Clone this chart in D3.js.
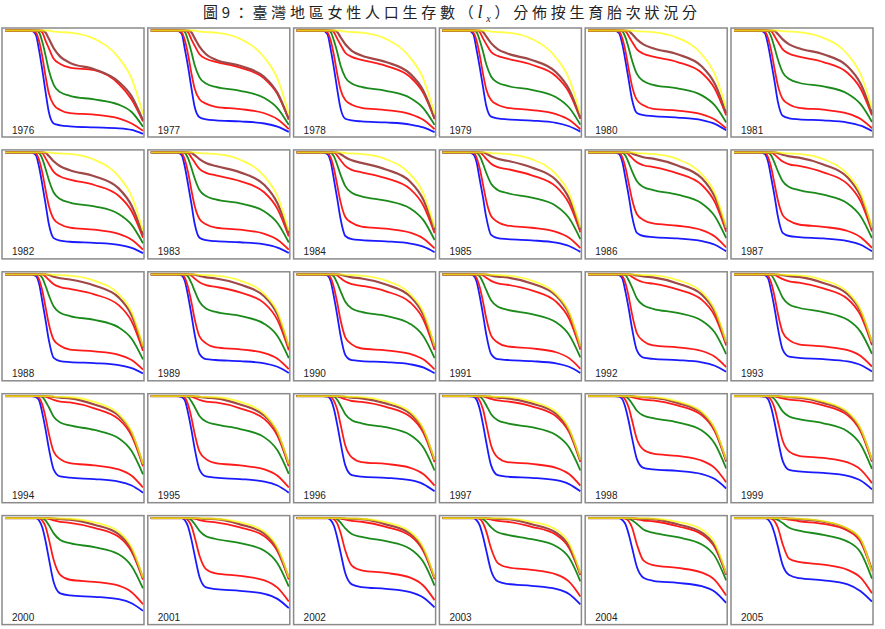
<!DOCTYPE html>
<html><head><meta charset="utf-8">
<script src="https://cdn.jsdelivr.net/npm/d3@7"></script>
<style>body{margin:0;background:#fff}svg{display:block}</style>
</head><body><svg id="c" width="885" height="629"></svg>
<script>
const years = [1976,1977,1978,1979,1980,1981,1982,1983,1984,1985,1986,1987,1988,1989,1990,1991,1992,1993,1994,1995,1996,1997,1998,1999,2000,2001,2002,2003,2004,2005];
const ages = [0,16,19,21,23,25,27,30,34,40,55,70,78,85];
const titleText = ["圖9：臺灣地區女性人口生存數（", "l", "x", "）分佈按生育胎次狀況分"];
// blue: parity 0
const parity0 = [
[100,100,96,81,62,41,22,11,9.3,8.3,7.3,6.4,4.8,1],
[100,100,97,82,65,45,27,17,15,14,13,11,8,3],
[100,100,96.5,82,64,44,26,15.6,14,13,12,10,7.3,2.7],
[100,100,96.6,82,65,46,28,17.6,16,15,13.8,11.6,8.4,3.2],
[100,100,97.5,87,70.5,52,34,21,19,18,16.7,14.2,10.6,4.5],
[100,100,97.5,86,69,51,32,18.4,16,15,14,11.9,8.9,3.8],
[100,100,97.5,86,69,50.5,31.5,18,15.5,14.5,13.5,11.5,8.6,3.6],
[100,100,97.5,86,69,51,32,18.4,16,15,14,11.9,8.9,3.8],
[100,100,98.3,91,74,56,37,20,17,16,14.9,12.8,9.8,4.5],
[100,100,98.3,91,74,57,38,21,18,17,15.8,13.6,10.4,4.8],
[100,100,98.4,91,75,58,39,23,20,19,17.7,15.2,11.6,5.3],
[100,100,98.4,91,75,58,39,23,20,19,17.7,15.2,11.6,5.3],
[100,100,98.3,91,74,56,37,20,17,16,15,13.1,10.2,5],
[100,100,98.8,93.4,79,61.5,42.6,23.7,18.8,18,16.9,14.8,11.5,5.6],
[100,100,98.8,93.4,78.4,61,42,22.8,17.8,17,16,13.9,10.9,5.3],
[100,100,98.8,93.4,79,61.5,42.6,23.7,18.8,18,16.9,14.8,11.5,5.6],
[100,100,99.2,96,83,66.8,48.2,27.1,20.2,19,17.9,15.8,12.5,6.7],
[100,100,99.2,96,83.2,67.2,48.8,28,21.2,20,18.8,16.6,13.2,7],
[100,100,99.2,96.1,83.6,68,50.1,29.8,23.2,22,20.7,18.3,14.5,7.7],
[100,100,99.2,96.1,83.6,68,50.1,29.8,23.2,22,20.7,18.3,14.5,7.7],
[100,100,99.6,96.9,87.7,73,56.1,33.8,24.5,23,21.9,19.6,15.9,9],
[100,100,99.6,96.9,87.7,73,56.1,33.8,24.5,23,21.9,19.6,15.9,9],
[100,100,99.7,97.2,88.8,75.5,60.1,39.8,31.4,30,28.5,25.5,20.7,11.7],
[100,100,99.6,97.1,88.5,74.8,59,38.1,29.4,28,26.6,23.8,19.3,10.9],
[100,100,100,97.8,91.1,77.8,61.5,38.6,27.9,26,24.7,22.4,18.5,11.2],
[100,100,100,98,91.8,79.6,64.6,43.6,33.7,32,30.4,27.5,22.7,13.8],
[100,100,100,98,92.7,81.5,67.7,47.2,36.6,34,32.3,29.2,24.1,14.6],
[100,100,100,98.1,93.1,82.4,69.1,49.6,39.5,37,35.2,32.2,27.4,17.4],
[100,100,100,98.2,94,84.4,71.8,53.2,43,40,38,34.8,29.6,18.8],
[100,100,100,98.5,94,85,73,55,45.5,42.5,40.5,36.5,30,20]
];
// red (lower): parity <= 1
const parity1 = [
[100,100,98,90,75,56,40,29,24,21,19.5,16,11,4],
[100,100,98.2,90.5,76.6,59.1,44.5,34.3,30,27,24.8,20.8,15.1,5.7],
[100,100,98.2,90.4,76.3,58.6,43.8,33.4,29,26,23.9,20,14.6,5.5],
[100,100,98.2,90.4,76.3,58.6,43.8,33.4,29,26,23.9,20,14.6,5.5],
[100,100,98.9,92.5,79.8,62.5,46.8,33.6,28.4,25,23.3,19.8,14.8,6.3],
[100,100,98.9,92.6,80,63,47.5,34.5,29.3,26,24.2,20.5,15.3,6.5],
[100,100,98.9,92.8,80.6,64,48.9,36.3,31.2,28,26,22.1,16.5,7],
[100,100,98.9,92.8,80.6,64,48.9,36.3,31.2,28,26,22.1,16.5,7],
[100,100,99.6,95,84.4,68.8,53.1,38.2,32.6,29,27,23.2,17.7,8.1],
[100,100,99.7,95.1,84.6,69.2,53.8,39.1,33.5,30,27.9,24,18.3,8.4],
[100,100,99.7,95.2,85,70.1,55.1,40.8,35.4,32,29.8,25.6,19.5,9],
[100,100,99.7,95.2,84.8,69.6,54.5,40,34.5,31,28.8,24.8,18.9,8.7],
[100,100,99.6,95,84.2,68.3,52.5,37.4,31.6,28,26.3,23,17.9,8.7],
[100,100,99.8,96.5,87.4,73.4,57.3,40.5,33.9,30,28.2,24.6,19.2,9.3],
[100,100,99.8,96.5,87.2,73,56.7,39.7,32.9,29,27.3,23.8,18.6,9],
[100,100,99.8,96.6,87.6,73.8,57.9,41.4,34.8,31,29.1,25.4,19.8,9.6],
[100,100,100,98.3,91.2,78.2,61.9,43.6,36.1,32,30.1,26.6,21.1,11.2],
[100,100,100,98.3,91.3,78.6,62.5,44.4,37,33,31,27.4,21.8,11.6],
[100,100,100,98.4,91.7,79.5,64.2,46.9,39.8,36,33.8,29.9,23.8,12.6],
[100,100,100,98.4,91.7,79.5,64.2,46.9,39.8,36,33.8,29.9,23.8,12.6],
[100,100,100,99.4,95.6,87.4,73.5,52.8,41.4,37,35.2,31.5,25.5,14.4],
[100,100,100,99.4,95.6,87.4,73.5,52.8,41.4,37,35.2,31.5,25.5,14.4],
[100,100,100,99.5,96.2,89,76.9,58.8,48.9,45,42.8,38.3,31.1,17.6],
[100,100,100,99.4,96,88.6,76.1,57.3,47,43,40.9,36.6,29.7,16.8],
[100,100,100,99.7,97.6,91.7,79.9,59.9,45.7,41,39,35.3,29.1,17.6],
[100,100,100,99.7,97.9,92.6,82,64,51.2,47,44.7,40.4,33.4,20.2],
[100,100,100,100,99,95,86.5,69,54.5,50,47.5,43,35.5,21.5],
[100,100,100,100,99.1,95.3,87.3,70.9,57.2,53,50.4,46.1,39.2,24.9],
[100,100,100,100,99.6,96.9,91,74.8,59.5,55,52.3,47.9,40.7,25.9],
[100,100,100,100,99.6,97,91,75,61,58,55.5,50.5,43,28]
];
// green: parity <= 2
const parity2 = [
[100,100,100,98,89,76,62,48,41,37.5,34,29,22,8],
[100,100,100,98.4,90.3,79.5,67.1,55.2,49.2,46,42.3,35.4,25.8,9.7],
[100,100,100,98.4,90.3,79.5,67.1,55.2,49.2,46,42.3,35.4,25.8,9.7],
[100,100,100,98.4,90.5,79.9,67.7,56,50.2,47,43.2,36.2,26.3,9.9],
[100,100,100,99.2,93.2,82.8,71.4,58.4,51.6,48,44.6,37.9,28.3,12],
[100,100,100,99.3,93.5,83.5,72.5,60,53.5,50,46.5,39.5,29.5,12.5],
[100,100,100,99.3,93.8,84.2,73.6,61.6,55.4,52,48.4,41.1,30.7,13],
[100,100,100,99.3,94.2,85.2,75.3,64,58.2,55,51.2,43.5,32.5,13.8],
[100,100,100,99.6,96.2,88.2,79,67.7,61.4,58,53.9,46.4,35.4,16.2],
[100,100,100,99.6,96.5,89.1,80.5,70,64.1,61,56.7,48.8,37.2,17.1],
[100,100,100,99.6,96.8,89.9,82,72.3,66.9,64,59.5,51.2,39,17.9],
[100,100,100,99.6,96.8,89.9,82,72.3,66.9,64,59.5,51.2,39,17.9],
[100,100,100,99.6,96.4,88.8,80,69.2,63.2,60,56.4,49.2,38.4,18.6],
[100,100,100,99.8,97.8,91.7,84.2,73.7,67.2,64,60.2,52.5,41,19.8],
[100,100,100,99.8,97.8,91.7,84.2,73.7,67.2,64,60.2,52.5,41,19.8],
[100,100,100,99.8,98,92.2,85,75.2,69.1,66,62,54.1,42.2,20.5],
[100,100,100,100,99,94.1,87.5,76.9,70.3,67,63,55.6,44.2,23.5],
[100,100,100,100,99,94.2,87.8,77.6,71.2,68,63.9,56.4,44.9,23.8],
[100,100,100,100,99.2,95,89.4,80.4,74.8,72,67.7,59.8,47.5,25.2],
[100,100,100,100,99.2,95.1,89.7,81.1,75.7,73,68.6,60.6,48.2,25.6],
[100,100,100,100,99.5,96.6,91.4,82.8,77.1,74,70.3,62.9,51.1,28.9],
[100,100,100,100,99.5,96.6,91.4,82.8,77.1,74,70.3,62.9,51.1,28.9],
[100,100,100,100,99.6,97.3,93.1,86.1,81.5,79,75,67.2,54.5,30.8],
[100,100,100,100,99.6,97.1,92.7,85.5,80.6,78,74.1,66.3,53.8,30.4],
[100,100,100,100,99.8,97.8,93.3,85.4,79.1,76,72.2,65.4,54,32.7],
[100,100,100,100,99.8,98.2,94.4,87.8,82.6,80,76,68.8,56.8,34.4],
[100,100,100,100,100,98.9,95.9,90.1,84.7,82,77.9,70.5,58.2,35.3],
[100,100,100,100,100,99,96.3,91.2,86.4,84,79.8,73.1,62.2,39.5],
[100,100,100,100,100,99.6,98,94.4,89.2,86,81.7,74.8,63.6,40.4],
[100,100,100,100,100,99.6,98.3,95.2,90.8,88,84,77.5,67,42]
];
// red (upper): parity <= 3
const parity3 = [
[100,100,100,100,98,90,83,73,68,64.5,62,49,34,13],
[100,100,100,100,98.2,91.6,85.6,77.2,73,70,64.4,53.9,39.2,14.7],
[100,100,100,100,98.3,92.2,86.6,78.7,74.8,72,66.2,55.4,40.3,15.1],
[100,100,100,100,98.4,92.4,87,79.5,75.7,73,67.2,56.2,40.9,15.3],
[100,100,100,100,99.2,94.5,89.2,82,77.8,75,69.8,59.3,44.3,18.8],
[100,100,100,100,99.2,94.5,89.2,82,77.8,75,69.8,59.3,44.3,18.8],
[100,100,100,100,99.2,94.3,88.8,81.3,76.9,74,68.8,58.5,43.7,18.5],
[100,100,100,100,99.3,95.2,90.5,84.2,80.4,78,72.5,61.6,46,19.5],
[100,100,100,100,99.8,97,92.8,87.1,83.3,81,75.3,64.8,49.4,22.7],
[100,100,100,100,99.8,97.4,93.9,89.1,85.9,84,78.1,67.2,51.2,23.5],
[100,100,100,100,99.9,97.8,94.7,90.5,87.7,86,80,68.8,52.5,24.1],
[100,100,100,100,99.9,97.9,95.1,91.2,88.6,87,80.9,69.6,53.1,24.4],
[100,100,100,100,99.9,97.8,94.7,90.5,87.7,86,80.8,70.5,55,26.7],
[100,100,100,100,99.9,98.7,96,92.4,89.6,88,82.7,72.2,56.3,27.3],
[100,100,100,100,99.9,98.8,96.4,93.1,90.5,89,83.7,73,57,27.6],
[100,100,100,100,100,98.9,96.7,93.7,91.4,90,84.6,73.8,57.6,27.9],
[100,100,100,100,100,99.5,97.5,94.8,92.4,91,85.5,75.5,60.1,31.9],
[100,100,100,100,100,99.5,97.8,95.4,93.2,92,86.5,76.4,60.7,32.2],
[100,100,100,100,100,99.6,98.3,96.5,94.9,94,88.4,78,62,32.9],
[100,100,100,100,100,99.6,98.3,96.5,94.9,94,88.4,78,62,32.9],
[100,100,100,100,100,99.8,98.8,97.1,95.4,94.5,89.8,80.3,65.2,36.9],
[100,100,100,100,100,99.9,98.9,97.4,95.9,95,90.3,80.8,65.6,37.1],
[100,100,100,100,100,99.9,99.1,97.9,96.7,96,91.2,81.6,66.2,37.4],
[100,100,100,100,100,99.9,99.1,97.9,96.7,96,91.2,81.6,66.2,37.4],
[100,100,100,100,100,100,99.3,97.8,96.4,95.5,90.7,82.1,67.8,41.1],
[100,100,100,100,100,100,99.4,98.1,96.8,96,91.2,82.6,68.2,41.3],
[100,100,100,100,100,100,99.6,98.5,97.3,96.5,91.7,83,68.5,41.5],
[100,100,100,100,100,100,99.6,98.5,97.3,96.5,91.7,84,71.4,45.4],
[100,100,100,100,100,100,99.8,98.9,97.7,97,92.2,84.4,71.8,45.6],
[100,100,100,100,100,100,100,99.5,98.5,97,94.5,88,77,49]
];
// brown: parity <= 4
const parity4 = [
[100,100,100,100,100,98,92,83,75,69,63,51,37,14],
[100,100,100,100,100,98.3,92.7,84.6,77.3,72,66.2,55.4,40.3,15.1],
[100,100,100,100,100,98.6,93.8,86.8,80.6,76,69.9,58.5,42.6,16],
[100,100,100,100,100,98.7,94.3,87.9,82.2,78,71.8,60.1,43.7,16.4],
[100,100,100,100,100,99.5,96.6,91.5,86.7,83,77.2,65.6,49,20.8],
[100,100,100,100,100,99.5,96.6,91.5,86.7,83,77.2,65.6,49,20.8],
[100,100,100,100,100,99.5,96.6,91.5,86.7,83,77.2,65.6,49,20.8],
[100,100,100,100,100,99.6,97.4,93.5,89.9,87,80.9,68.7,51.3,21.8],
[100,100,100,100,100,99.9,98.5,95.4,92.4,90,83.7,72,54.9,25.2],
[100,100,100,100,100,99.9,98.8,96.3,93.9,92,85.6,73.6,56.1,25.8],
[100,100,100,100,100,100,99.1,97.2,95.4,94,87.4,75.2,57.3,26.3],
[100,100,100,100,100,100,99.3,97.7,96.2,95,88.4,76,58,26.6],
[100,100,100,100,100,100,99.3,97.7,96.2,95,89.3,77.9,60.8,29.5],
[100,100,100,100,100,100,99.6,98.4,97.1,96,90.2,78.7,61.4,29.8],
[100,100,100,100,100,100,99.6,98.4,97.1,96,90.2,78.7,61.4,29.8],
[100,100,100,100,100,100,99.7,98.8,97.8,97,91.2,79.5,62.1,30.1],
[100,100,100,100,100,100,99.8,98.9,97.9,97,91.2,80.5,64,34],
[100,100,100,100,100,100,99.8,99.1,98.2,97.5,91.7,80.9,64.4,34.1],
[100,100,100,100,100,100,99.9,99.3,98.6,98,92.1,81.3,64.7,34.3],
[100,100,100,100,100,100,99.9,99.3,98.6,98,92.1,81.3,64.7,34.3],
[100,100,100,100,100,100,99.9,99.3,98.6,98,93.1,83.3,67.6,38.2],
[100,100,100,100,100,100,99.9,99.3,98.6,98,93.1,83.3,67.6,38.2],
[100,100,100,100,100,100,100,99.5,99,98.5,93.6,83.7,68,38.4],
[100,100,100,100,100,100,100,99.5,99,98.5,93.6,83.7,68,38.4],
[100,100,100,100,100,100,100,99.5,99,98.5,93.6,84.7,69.9,42.4],
[100,100,100,100,100,100,100,99.6,99.3,99,94,85.1,70.3,42.6],
[100,100,100,100,100,100,100,99.6,99.3,99,94,85.1,70.3,42.6],
[100,100,100,100,100,100,100,99.6,99.3,99,94.1,86.1,73.3,46.5],
[100,100,100,100,100,100,100,99.6,99.3,99,94.1,86.1,73.3,46.5],
[100,100,100,100,100,100,100,100,99.5,99,96.5,89.5,79,50]
];
// yellow: all survivors
const survivors = [
[100,100,100,100,100,100,100,99,98.5,98,92,74,54,20],
[100,100,100,100,100,100,100,99,98.5,98,92,74,54,20],
[100,100,100,100,100,100,100,99,98.5,98,92,74,54,20],
[100,100,100,100,100,100,100,99,98.5,98,92,74,54,20],
[100,100,100,100,100,100,100,99.3,99,98.5,93,77,58,25],
[100,100,100,100,100,100,100,99.3,99,98.5,93,77,58,25],
[100,100,100,100,100,100,100,99.3,99,98.5,93,77,58,25],
[100,100,100,100,100,100,100,99.3,99,98.5,93,77,58,25],
[100,100,100,100,100,100,100,99.4,99,98.5,93.5,79,61,28],
[100,100,100,100,100,100,100,99.4,99,98.5,93.5,79,61,28],
[100,100,100,100,100,100,100,99.4,99,98.5,93.5,79,61,28],
[100,100,100,100,100,100,100,99.4,99,98.5,93.5,79,61,28],
[100,100,100,100,100,100,100,99.5,99.2,98.8,94,81,64,31],
[100,100,100,100,100,100,100,99.5,99.2,98.8,94,81,64,31],
[100,100,100,100,100,100,100,99.5,99.2,98.8,94,81,64,31],
[100,100,100,100,100,100,100,99.5,99.2,98.8,94,81,64,31],
[100,100,100,100,100,100,100,99.6,99.3,99,94.5,83,66,35],
[100,100,100,100,100,100,100,99.6,99.3,99,94.5,83,66,35],
[100,100,100,100,100,100,100,99.6,99.3,99,94.5,83,66,35],
[100,100,100,100,100,100,100,99.6,99.3,99,94.5,83,66,35],
[100,100,100,100,100,100,100,99.7,99.4,99.2,95,85,69,39],
[100,100,100,100,100,100,100,99.7,99.4,99.2,95,85,69,39],
[100,100,100,100,100,100,100,99.7,99.4,99.2,95,85,69,39],
[100,100,100,100,100,100,100,99.7,99.4,99.2,95,85,69,39],
[100,100,100,100,100,100,100,99.8,99.6,99.4,96,87,72,43],
[100,100,100,100,100,100,100,99.8,99.6,99.4,96,87,72,43],
[100,100,100,100,100,100,100,99.8,99.6,99.4,96,87,72,43],
[100,100,100,100,100,100,100,99.8,99.7,99.5,96.5,89,76,47],
[100,100,100,100,100,100,100,99.8,99.7,99.5,96.5,89,76,47],
[100,100,100,100,100,100,100,99.8,99.7,99.5,97,90,80,48]
];

const series = [
  {data: parity0, color: "#1a1aff", width: 1.8, opacity: 1},
  {data: parity1, color: "#ff1a1a", width: 1.8, opacity: 1},
  {data: parity2, color: "#1a8a1a", width: 1.8, opacity: 1},
  {data: parity3, color: "#ff1a1a", width: 1.8, opacity: 1},
  {data: parity4, color: "#a04848", width: 2.2, opacity: 1},
  {data: survivors, color: "#ffff00", width: 1.8, opacity: 0.72}
];

const svg = d3.select("#c");
svg.append("rect").attr("width", 885).attr("height", 629).attr("fill", "#fff");

const title = svg.append("text")
  .attr("x", 203).attr("y", 18)
  .attr("textLength", 494).attr("lengthAdjust", "spacing")
  .style("font-family", "'Noto Sans CJK TC', 'Noto Sans CJK SC', sans-serif")
  .style("font-size", "15px").attr("fill", "#222");
title.append("tspan").text(titleText[0]);
title.append("tspan").text(titleText[1])
  .style("font-family", "'Liberation Serif', serif").style("font-style", "italic").style("font-size", "18px");
title.append("tspan").text(titleText[2]).attr("dy", 4)
  .style("font-family", "'Liberation Serif', serif").style("font-style", "italic").style("font-size", "10px");
title.append("tspan").text(titleText[3]).attr("dy", -4);

const colStep = 145.8, rowStep = 121.9, pw = 142, ph = 109;
const x = d3.scaleLinear().domain([0, 85]).range([3, pw - 1]);
const y = d3.scaleLinear().domain([0, 100]).range([ph - 2, 2.5]);
const line = d3.line().x((d, j) => x(ages[j])).y(d => y(d)).curve(d3.curveMonotoneX);

years.forEach((yr, i) => {
  const c = i % 6, r = Math.floor(i / 6);
  const x0 = 2 + c * colStep, y0 = 28 + r * rowStep;
  const g = svg.append("g").attr("transform", `translate(${x0},${y0})`);
  g.append("rect").attr("x", 0).attr("y", 0).attr("width", pw).attr("height", ph)
    .attr("fill", "#fff");
  series.forEach(s => {
    g.append("path").attr("d", line(s.data[i]))
      .attr("fill", "none").attr("stroke", s.color)
      .attr("stroke-width", s.width).attr("stroke-opacity", s.opacity)
      .attr("stroke-linejoin", "round");
  });
  g.append("rect").attr("x", 0).attr("y", 0).attr("width", pw).attr("height", ph)
    .attr("fill", "none").attr("stroke", "#8a8a8a").attr("stroke-width", 1.5);
  g.append("text").attr("x", 10).attr("y", ph - 3.5)
    .style("font-family", "'Liberation Sans', Arial, sans-serif")
    .style("font-size", "10px").attr("fill", "#222").text(yr);
});
</script>
</body></html>
